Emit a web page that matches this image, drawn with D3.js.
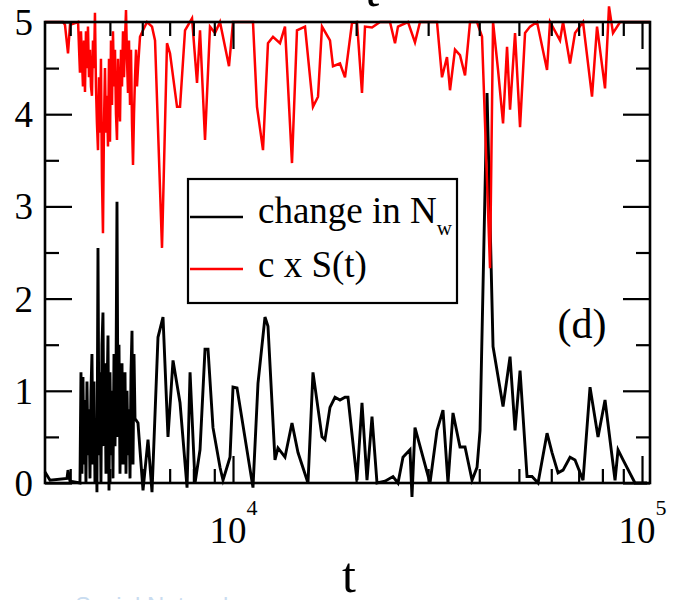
<!DOCTYPE html>
<html>
<head>
<meta charset="utf-8">
<script src="https://d3js.org/d3.v7.min.js"></script>
<style>
  body { margin: 0; background: #fff; }
  svg { display: block; }
</style>
</head>
<body>
<script>
// black series: change in N_w
var blackT = [3470, 3569, 3927, 3950, 3995,
  4225, 4249, 4273, 4297, 4321, 4346, 4370, 4395, 4420, 4445, 4470, 4495, 4520, 4546, 4572, 4597,
  4623, 4649, 4676, 4702, 4729, 4755, 4782, 4809, 4837, 4864, 4891, 4919, 4947, 4975, 5003, 5031,
  5060, 5088, 5117, 5146, 5175, 5204, 5234, 5263, 5293, 5323, 5353, 5383, 5414, 5444, 5475, 5506,
  5537, 5568, 5600, 5631, 5663, 5695, 5727, 5760,
  5857, 6025, 6197, 6338, 6555, 6743, 6935, 7134, 7421, 7720, 7852, 8075, 8305, 8542, 8687, 8935,
  9294, 9453, 9833, 10000, 10228, 11190, 11510, 11972, 12176, 12666, 12882, 13399, 13938, 14417,
  15252, 15687, 16502, 16783, 17263, 17756, 18263, 18785, 19105, 20097, 20671, 21262, 21869, 22494,
  23530, 24612, 25315, 26037, 27084, 27390, 27856, 30313, 31531, 32615, 33545, 34503, 35891, 36922,
  38408, 39504, 40177, 41792, 43228, 45734, 47571, 48929, 50326, 52348, 53842, 55693, 58588, 60257,
  62328, 64107, 66684, 68589, 71747, 74631, 78066, 81204, 85912, 87376, 89881, 96124, 102856];
var blackV = [0.12, 0.03, 0.05, 0.14, 0.02,
  0.0, 1.2, 0.1, 1.15, 0.2, 0.9, 0.0, 1.1, 0.3, 0.8, 0.05, 1.0, 1.4, 0.2, 1.1, 0.0,
  0.7, -0.1, 2.55, 0.3, 1.2, 0.0, 1.5, 1.85, 0.4, 1.3, 0.1, 0.9, 1.6, -0.08, 1.2, 0.3,
  1.0, 0.05, 1.4, 0.4, 1.1, 3.05, 0.5, 1.5, 0.1, 1.1, 1.3, 0.2, 0.9, 1.2, 0.1, 1.0,
  0.3, 0.8, 0.05, 1.2, 1.65, 0.2, 1.4, 0.7,
  0.65, -0.08, 0.47, -0.1, 1.58, 1.8, 0.5, 1.33, 0.87, -0.05, 1.2, 0.0, 0.36, 1.45, 1.45, 0.6,
  0.17, 0.03, 0.28, 1.04, 1.03, -0.05, 1.08, 1.8, 1.7, 0.25, 0.38, 0.28, 0.65, 0.33,
  0.0, 1.2, 0.5, 0.47, 0.82, 0.93, 0.9, 0.93, 0.93, 0.03, 0.87, 0.03, 0.72, 0.0,
  0.02, 0.07, 0.0, 0.28, 0.36, -0.15, 0.6, 0.0, 0.57, 0.79, 0.0, 0.76, 0.39, 0.39,
  0.03, 0.17, 0.57, 4.23, 1.48, 0.83, 1.37, 0.57, 1.22, 0.07, 0.07, 0.0, 0.54, 0.33,
  0.11, 0.14, 0.28, 0.25, 0.03, 1.04, 0.5, 0.9, 0.03, 0.36, 0.25, 0.0, 0.0];

// red series: c x S(t)
var redT = [3470, 3840, 3883, 3950, 3995, 4180, 4204,
  4225, 4249, 4273, 4297, 4321, 4346, 4370, 4395, 4420, 4445, 4470, 4495, 4520, 4546, 4572, 4597,
  4623, 4649, 4676, 4702, 4729, 4755, 4782, 4809, 4837, 4864, 4891, 4919, 4947, 4975, 5003, 5031,
  5060, 5088, 5117, 5146, 5175, 5204, 5234, 5263, 5293, 5323, 5353, 5383, 5414, 5444, 5475, 5506,
  5537, 5568, 5600, 5631, 5663, 5695, 5727, 5760, 5793, 5825, 5857,
  5924, 6025, 6163, 6338, 6447, 6705, 6896, 7014, 7297, 7421, 7633, 7940, 8166, 8305, 8542, 8785,
  9036, 9294, 9777, 10000, 10402, 11190, 11446, 11840, 12176, 12525, 13028, 13399, 13938, 14336,
  14999, 15687, 16138, 16502, 17263, 17557, 18263, 18785, 19540, 20097, 20671, 21024, 21869, 22880,
  24200, 24893, 25315, 26781, 27856, 28656, 30313, 31531, 32432, 33357, 33929, 34893, 35891, 36922,
  37978, 39504, 40630, 42502, 43228, 44460, 45734, 46775, 47571, 48929, 50326, 51762, 53236, 55380,
  58588, 59582, 63026, 64107, 66684, 68589, 71747, 75466, 77630, 81204, 83041, 84935, 88374, 93478,
  98883, 104600];
var redV = [5.0, 5.0, 4.97, 4.66, 4.97, 5.0, 4.7,
  4.45, 4.9, 4.6, 4.3, 4.8, 4.24, 4.9, 4.5, 4.95, 4.4, 4.7, 4.3, 4.2, 4.8, 4.5, 5.1,
  4.3, 3.9, 3.61, 4.4, 3.8, 4.6, 3.3, 2.71, 3.9, 4.5, 3.8, 4.2, 3.65, 4.6, 3.7, 4.8,
  4.1, 4.9, 4.3, 4.7, 4.0, 3.72, 4.6, 4.2, 3.92, 4.7, 4.3, 4.9, 4.4, 4.8, 5.13, 4.6,
  4.23, 4.8, 4.1, 4.7, 3.9, 3.45, 4.0, 4.4, 4.7, 4.3, 4.5,
  4.84, 4.91, 5.0, 4.95, 4.8, 2.55, 4.77, 4.66, 4.08, 4.08, 4.91, 5.04, 4.34, 4.91, 3.72, 4.95,
  4.88, 5.0, 4.52, 5.0, 5.0, 5.0, 4.08, 3.61, 4.77, 4.84, 4.77, 4.95, 3.47, 4.91,
  4.95, 4.08, 4.19, 4.95, 4.8, 4.52, 4.55, 4.4, 4.99, 5.0, 4.23, 4.95, 4.94, 5.0,
  5.0, 4.77, 4.95, 5.0, 4.78, 5.0, 5.0, 5.0, 4.4, 4.62, 4.26, 4.7, 4.64, 4.42,
  5.0, 5.0, 4.84, 2.33, 5.0, 4.48, 3.9, 4.73, 4.05, 4.88, 3.86, 4.88, 4.95, 5.0,
  4.48, 5.0, 4.8, 5.0, 4.55, 4.88, 5.0, 4.19, 4.95, 4.28, 5.17, 4.88, 5.0, 5.0,
  5.0, 5.0];

// ticks
var yMajor = [0, 1, 2, 3, 4, 5];
var yMinor = [0.5, 1.5, 2.5, 3.5, 4.5];
var xMajor = [1e4, 1e5];
var xMinor = [4000, 5000, 6000, 7000, 8000, 9000, 20000, 30000, 40000, 50000, 60000, 70000, 80000, 90000];
var legendNames = ["change in N", "c x S(t)"];

var serif = "'Liberation Serif', 'DejaVu Serif', serif";

var margin = {top: 22, right: 23, bottom: 117, left: 45},
  w = 673 - margin.left - margin.right,
  h = 600 - margin.top - margin.bottom;

var x = d3.scaleLog().domain([3470, 104600]).range([0, w]);
var y = d3.scaleLinear().domain([0, 5]).range([h, 0]);

var svg = d3.select("body").append("svg")
  .attr("width", 673)
  .attr("height", 600);

// cut off title at the very top and faint watermark at the bottom
svg.append("text")
  .attr("x", 372).attr("y", 6)
  .attr("text-anchor", "middle")
  .attr("font-family", serif)
  .attr("font-size", 52)
  .text("t");

svg.append("text")
  .attr("x", 75).attr("y", 614)
  .attr("font-family", "'Liberation Sans', sans-serif")
  .attr("font-size", 24)
  .attr("fill", "#c9dcf0")
  .text("Social Networks");

var g = svg.append("g")
  .attr("transform", "translate(" + margin.left + "," + margin.top + ")");

// data lines
var line = d3.line()
  .x(function(d) { return x(d[0]); })
  .y(function(d) { return y(d[1]); });

var black = d3.zip(blackT, blackV);
var red = d3.zip(redT, redV);

g.append("path")
  .datum(black)
  .attr("fill", "none")
  .attr("stroke", "#000")
  .attr("stroke-width", 2.9)
  .attr("d", line);

g.append("path")
  .datum(red)
  .attr("fill", "none")
  .attr("stroke", "#ff0000")
  .attr("stroke-width", 2.5)
  .attr("d", line);

// axes, all ticks inside the frame
function styleAxis(sel) {
  sel.select(".domain").remove();
  sel.selectAll(".tick line").attr("stroke", "#000").attr("stroke-width", 2.2);
  sel.attr("font-family", serif).attr("font-size", 37);
}

var yl = g.append("g")
  .call(d3.axisLeft(y).tickValues(yMajor).tickSize(-27).tickPadding(12).tickFormat(d3.format("d")))
  .call(styleAxis);
yl.selectAll(".tick text").attr("fill", "#000").attr("dy", "0.34em");

g.append("g")
  .call(d3.axisLeft(y).tickValues(yMinor).tickSize(-14).tickFormat(""))
  .call(styleAxis);

g.append("g")
  .attr("transform", "translate(" + w + ",0)")
  .call(d3.axisRight(y).tickValues(yMajor).tickSize(-27).tickFormat(""))
  .call(styleAxis);

g.append("g")
  .attr("transform", "translate(" + w + ",0)")
  .call(d3.axisRight(y).tickValues(yMinor).tickSize(-14).tickFormat(""))
  .call(styleAxis);

var xb = g.append("g")
  .attr("transform", "translate(0," + h + ")")
  .call(d3.axisBottom(x).tickValues(xMajor).tickSize(-27).tickFormat(function(d) { return ""; }))
  .call(styleAxis);

// 10^n labels with superscript
xb.selectAll(".tick text")
  .attr("y", 60)
  .attr("dy", null)
  .attr("fill", "#000")
  .each(function(d) {
    var t = d3.select(this);
    t.append("tspan").text("10");
    t.append("tspan").attr("dy", -28).attr("font-size", 22).text(Math.round(Math.log10(d)));
  });

g.append("g")
  .attr("transform", "translate(0," + h + ")")
  .call(d3.axisBottom(x).tickValues(xMinor).tickSize(-14).tickFormat(""))
  .call(styleAxis);

g.append("g")
  .call(d3.axisTop(x).tickValues(xMajor).tickSize(-27).tickFormat(""))
  .call(styleAxis);

g.append("g")
  .call(d3.axisTop(x).tickValues(xMinor).tickSize(-14).tickFormat(""))
  .call(styleAxis);

// frame
g.append("rect")
  .attr("width", w)
  .attr("height", h)
  .attr("fill", "none")
  .attr("stroke", "#000")
  .attr("stroke-width", 2.6);

// axis title
svg.append("text")
  .attr("x", 349).attr("y", 592)
  .attr("text-anchor", "middle")
  .attr("font-family", serif)
  .attr("font-size", 50)
  .text("t");

// panel label
g.append("text")
  .attr("x", 582 - margin.left).attr("y", 338 - margin.top)
  .attr("text-anchor", "middle")
  .attr("font-family", serif)
  .attr("font-size", 42)
  .text("(d)");

// legend
var leg = svg.append("g");
leg.append("rect")
  .attr("x", 188).attr("y", 179)
  .attr("width", 269).attr("height", 124)
  .attr("fill", "#fff")
  .attr("stroke", "#000")
  .attr("stroke-width", 2.2);

var legColors = ["#000", "#ff0000"];
var legY = [217, 269];
legendNames.forEach(function(name, i) {
  leg.append("line")
    .attr("x1", 190).attr("x2", 243)
    .attr("y1", legY[i]).attr("y2", legY[i])
    .attr("stroke", legColors[i])
    .attr("stroke-width", 2.6);
  var t = leg.append("text")
    .attr("x", 258).attr("y", legY[i] + 6 + i * 2)
    .attr("font-family", serif)
    .attr("font-size", 37)
    .text(name);
  if (i == 0) {
    t.append("tspan").attr("dy", 12).attr("font-size", 21).text("w");
  }
});
</script>
</body>
</html>
